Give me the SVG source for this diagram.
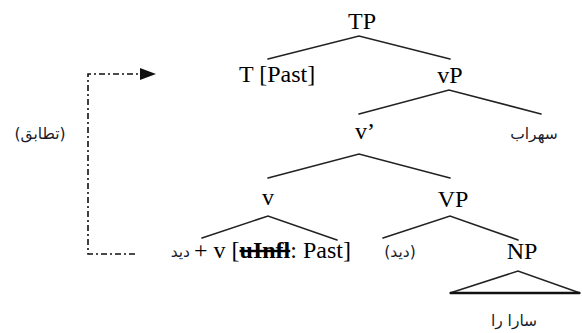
<svg xmlns="http://www.w3.org/2000/svg" width="582" height="333" viewBox="0 0 582 333">
<defs>
<style>
.lat{font-family:"Liberation Serif","Times New Roman",serif;font-size:24px;fill:#000;}
.ar{font-family:"DejaVu Sans","Noto Sans",sans-serif;font-size:15.5px;fill:#1a1a2a;}
.br{stroke:#222;stroke-width:1.6;fill:none;stroke-linecap:round;}
.dash{stroke:#111;stroke-width:1.6;fill:none;stroke-dasharray:6,3,2,3;}
</style>
<marker id="ah" markerWidth="16" markerHeight="12" refX="1" refY="6" orient="auto" markerUnits="userSpaceOnUse">
<path d="M0,0 L16,6 L0,12 Z" fill="#111"/>
</marker>
</defs>
<rect width="582" height="333" fill="#fff"/>
<g id="connectors">
<path class="br" d="M268,59 L359,36 L450,59"/>
<path class="br" d="M359,114 L449,90 L541,114"/>
<path class="br" d="M268,178 L359,154 L450,178"/>
<path class="br" d="M202,238 L268,216 L337,240"/>
<path class="br" d="M383,238 L450,216 L518,240"/>
<path class="br" d="M450,293 L518,271 L580,293"/>
<path d="M450,293 L580,293" stroke="#111" stroke-width="2.6"/>
<path class="dash" d="M135,254 L88,254 L88,74 L141,74" marker-end="url(#ah)"/>
</g>
<g id="TP"><text class="lat" x="362" y="29" text-anchor="middle">TP</text></g>
<g id="T"><text class="lat" x="239" y="82">T [Past]</text></g>
<g id="vP"><text class="lat" x="450" y="83" text-anchor="middle">vP</text></g>
<g id="vbar"><text class="lat" x="355" y="139">v’</text></g>
<g id="sohrab"><text class="ar" x="534" y="139" text-anchor="middle">سهراب</text></g>
<g id="v"><text class="lat" x="268" y="205" text-anchor="middle">v</text></g>
<g id="VP"><text class="lat" x="453" y="207" text-anchor="middle">VP</text></g>
<g id="vhead">
<text class="ar" x="190" y="257" text-anchor="end">دید</text>
<text class="lat" x="194" y="258">+ v [<tspan font-weight="bold" text-decoration="line-through">uInfl</tspan>: Past]</text>
</g>
<g id="copy"><text class="ar" x="400" y="257" text-anchor="middle">(دید)</text></g>
<g id="NP"><text class="lat" x="522" y="259" text-anchor="middle">NP</text></g>
<g id="sara"><text class="ar" x="514" y="326" text-anchor="middle">سارا را</text></g>
<g id="agree"><text class="ar" x="40" y="139" text-anchor="middle">(تطابق)</text></g>
</svg>
